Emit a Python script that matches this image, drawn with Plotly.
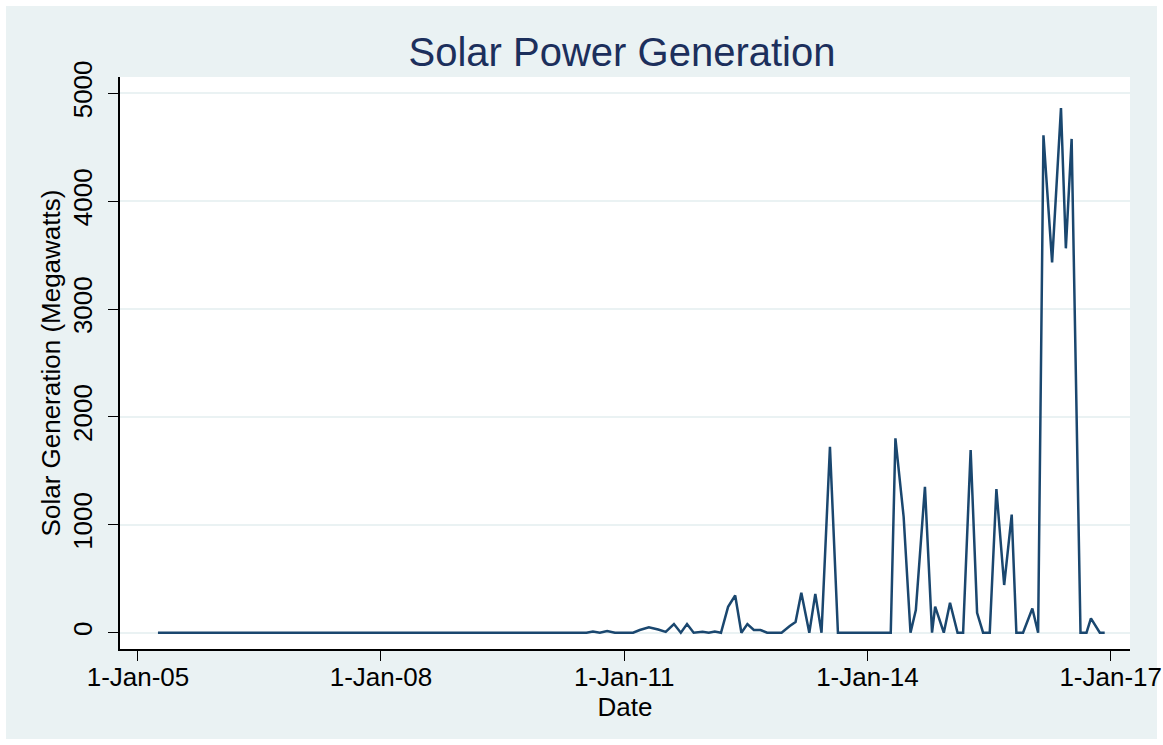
import plotly.graph_objects as go

# ---- data ----
dates = [
    "2005-04-01", "2005-10-01", "2006-04-01", "2006-10-01", "2007-04-01", "2007-10-01",
    "2008-04-01", "2008-10-01", "2009-04-01", "2009-10-01", "2010-04-01", "2010-07-15",
    "2010-08-13", "2010-09-13", "2010-10-16", "2010-11-20", "2010-12-21",
    "2011-02-10", "2011-03-12", "2011-04-22", "2011-06-03", "2011-07-07", "2011-08-13",
    "2011-09-13", "2011-10-11", "2011-11-10", "2011-12-20",
    "2012-01-17", "2012-02-13", "2012-03-12", "2012-04-13", "2012-05-15", "2012-06-12",
    "2012-07-09", "2012-08-07", "2012-09-06", "2012-10-06", "2012-11-05", "2012-12-10",
    "2013-01-16", "2013-02-11", "2013-03-09", "2013-04-14", "2013-05-11", "2013-06-08",
    "2013-07-16", "2013-08-21", "2013-09-21", "2013-10-26", "2013-11-27", "2013-12-30",
    "2014-02-03", "2014-03-09", "2014-04-16", "2014-05-07", "2014-06-13", "2014-07-14",
    "2014-08-07", "2014-09-17", "2014-10-19", "2014-11-02", "2014-12-11",
    "2015-01-08", "2015-02-11", "2015-03-08", "2015-04-11", "2015-05-10", "2015-06-06",
    "2015-07-06", "2015-08-05", "2015-09-09", "2015-10-13", "2015-11-03", "2015-12-03",
    "2016-01-14", "2016-02-09", "2016-03-04", "2016-04-12", "2016-05-22", "2016-06-13",
    "2016-07-09", "2016-08-18", "2016-09-14", "2016-10-04", "2016-11-13", "2016-12-05",
]
solar_mw = [
    0, 0, 0, 0, 0, 0,
    0, 0, 0, 0, 0, 0,
    10, 0, 15, 0, 0,
    0, 25, 50, 30, 8, 80,
    0, 80, 0, 8,
    0, 12, 0, 240, 345, 0,
    80, 25, 25, 0, 0, 0,
    62, 100, 370, 0, 360, 0,
    1724, 0, 0, 0, 0, 0,
    0, 0, 0, 1802, 1075, 0,
    210, 1353, 0, 241, 0,
    278, 0, 0, 1694, 185, 0,
    0, 1332, 442, 1095, 0, 0,
    224, 0, 4610, 3433, 4863, 3563,
    4577, 0, 0, 133, 0, 0,
]

x_tick_vals = ["2005-01-01", "2008-01-01", "2011-01-01", "2014-01-01", "2017-01-01"]
x_tick_text = ["1-Jan-05", "1-Jan-08", "1-Jan-11", "1-Jan-14", "1-Jan-17"]
y_tick_vals = [0, 1000, 2000, 3000, 4000, 5000]
y_tick_text = ["0", "1000", "2000", "3000", "4000", "5000"]

BG = "#EAF2F3"
LINE = "#1A476F"
FONT = "Liberation Sans, Arial, sans-serif"

fig = go.Figure()
fig.add_trace(go.Scatter(
    x=dates, y=solar_mw, mode="lines",
    line=dict(color=LINE, width=2.5),
    showlegend=False,
))

W, H = 1163, 745
L, R, T, B = 120, 33, 77, 96
pw, ph = W - L - R, H - T - B

def px_x(p):
    return (p - L) / pw

def px_y(p):
    return (H - B - p) / ph

fig.update_layout(
    width=W, height=H,
    margin=dict(l=L, r=R, t=T, b=B, pad=0, autoexpand=False),
    paper_bgcolor="white",
    plot_bgcolor="white",
    font=dict(family=FONT, color="black", size=26),
    title=dict(
        text="Solar Power Generation",
        font=dict(family=FONT, size=40, color="#1C2F5C"),
        x=622 / W, xref="container", xanchor="center",
        y=1 - 52 / H, yref="container", yanchor="middle",
    ),
    shapes=[
        dict(type="rect", xref="paper", yref="paper", layer="below",
             x0=px_x(6), x1=px_x(1157), y0=px_y(739), y1=px_y(6),
             fillcolor=BG, line=dict(width=0)),
        dict(type="rect", xref="paper", yref="paper", layer="below",
             x0=0, x1=1, y0=0, y1=1,
             fillcolor="white", line=dict(width=0)),
    ],
)

fig.update_xaxes(
    range=["2004-10-12", "2017-03-29"],
    automargin=False,
    tickmode="array", tickvals=x_tick_vals, ticktext=x_tick_text,
    ticks="outside", ticklen=10, tickwidth=1.3, tickcolor="black",
    showline=True, linecolor="black", linewidth=1.5,
    showgrid=False, zeroline=False,
    ticklabelstandoff=-6,
    tickfont=dict(size=26, family=FONT, color="black"),
    title=dict(text="Date", font=dict(size=26, family=FONT, color="black"), standoff=0),
)
fig.update_yaxes(
    range=[-151, 5151],
    automargin=False,
    tickmode="array", tickvals=y_tick_vals, ticktext=y_tick_text,
    tickangle=-90,
    ticks="outside", ticklen=10, tickwidth=1.3, tickcolor="black",
    showline=True, linecolor="black", linewidth=1.5,
    showgrid=True, gridcolor=BG, gridwidth=2, zeroline=False,
    ticklabelstandoff=6,
    tickfont=dict(size=26, family=FONT, color="black"),
    title=dict(text="Solar Generation (Megawatts)", font=dict(size=26, family=FONT, color="black"), standoff=0),
)

fig.write_html("out.html", config={"displayModeBar": False},
               post_script="document.body.style.margin='0';")
